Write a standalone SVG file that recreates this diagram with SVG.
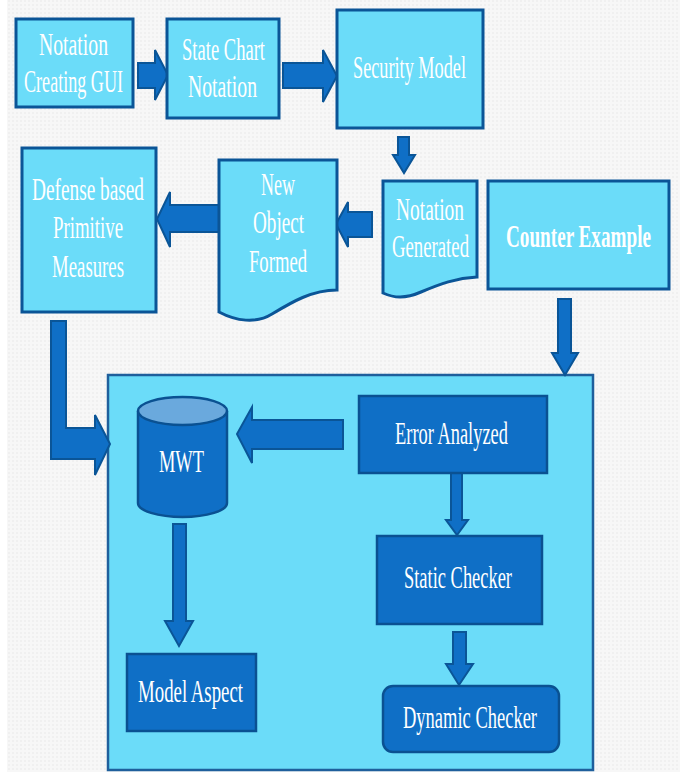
<svg xmlns="http://www.w3.org/2000/svg" width="680" height="772" viewBox="0 0 680 772">
  <defs>
    <style>
      .light { fill: #6bdcf9; stroke: #0b5597; stroke-width: 3; }
      .dark { fill: #0f6fc6; stroke: #0a5192; stroke-width: 2.5; }
      .arrow { fill: #0f6fc6; stroke: #0a5597; stroke-width: 2; stroke-linejoin: miter; }
      .lbl { font-family: "Liberation Serif", "DejaVu Serif", serif; font-size: 32px; fill: #ffffff; }
      .bold { font-weight: bold; }
    </style>
    <pattern id="grain" width="4" height="4" patternUnits="userSpaceOnUse">
      <rect width="4" height="4" fill="#f7f7f7"/>
      <rect width="2" height="2" fill="#f0f0f0"/>
    </pattern>
  </defs>

  <!-- page -->
  <rect width="680" height="772" fill="#ffffff"/>
  <rect x="7" y="0" width="673" height="772" fill="url(#grain)"/>

  <!-- container for the analysis stage -->
  <g id="analysis-panel">
    <rect x="108" y="375" width="485" height="395" fill="#6bdcf9" stroke="#1f5f9c" stroke-width="2.5"/>
  </g>

  <g id="connectors">
    <!-- Notation Creating GUI -> State Chart Notation -->
    <path class="arrow" d="M138,63 H155 V50 L168,75 L155,100 V88 H138 Z"/>
    <!-- State Chart Notation -> Security Model -->
    <path class="arrow" d="M283,63 H323 V50 L337,76 L323,102 V88 H283 Z"/>
    <!-- Security Model -> Notation Generated -->
    <path class="arrow" d="M398,137 H409 V155 H415 L404,173 L393,155 H398 Z"/>
    <!-- Notation Generated -> New Object Formed -->
    <path class="arrow" d="M372,212 H348 V202 L336,224 L348,247 V237 H372 Z"/>
    <!-- New Object Formed -> Defense based Primitive Measures -->
    <path class="arrow" d="M219,205 H170 V192 L157,219 L170,247 V232 H219 Z"/>
    <!-- Defense based Primitive Measures -> panel (bent) -->
    <path class="arrow" d="M51,321 H66 V428 H95 V415 L110,444 L95,475 V459 H51 Z"/>
    <!-- Counter Example -> panel -->
    <path class="arrow" d="M558,299 H571 V353 H578 L565,375 L552,353 H558 Z"/>
    <!-- Error Analyzed -> MWT -->
    <path class="arrow" d="M343,420 H252 V407 L237,434 L252,463 V449 H343 Z"/>
    <!-- MWT -> Model Aspect -->
    <path class="arrow" d="M173,524 H186 V621 H193 L179,646 L165,621 H173 Z"/>
    <!-- Error Analyzed -> Static Checker -->
    <path class="arrow" d="M451,473 H462 V520 H468 L457,535 L446,520 H451 Z"/>
    <!-- Static Checker -> Dynamic Checker -->
    <path class="arrow" d="M453,632 H466 V664 H473 L459,685 L446,664 H453 Z"/>
  </g>

  <g id="notation-gui">
    <rect class="light" x="16" y="19" width="117" height="88"/>
    <text class="lbl" x="39" y="55" textLength="69" lengthAdjust="spacingAndGlyphs">Notation</text>
    <text class="lbl" x="24" y="92" textLength="99" lengthAdjust="spacingAndGlyphs">Creating GUI</text>
  </g>

  <g id="state-chart">
    <rect class="light" x="167" y="19" width="112" height="99"/>
    <text class="lbl" x="182" y="60" textLength="83" lengthAdjust="spacingAndGlyphs">State Chart</text>
    <text class="lbl" x="188" y="97" textLength="69" lengthAdjust="spacingAndGlyphs">Notation</text>
  </g>

  <g id="security-model">
    <rect class="light" x="337" y="10" width="146" height="118"/>
    <text class="lbl" x="353" y="78" textLength="113" lengthAdjust="spacingAndGlyphs">Security Model</text>
  </g>

  <g id="defense-measures">
    <rect class="light" x="22" y="148" width="134" height="164"/>
    <text class="lbl" x="32" y="200" textLength="112" lengthAdjust="spacingAndGlyphs">Defense based</text>
    <text class="lbl" x="53" y="238" textLength="70" lengthAdjust="spacingAndGlyphs">Primitive</text>
    <text class="lbl" x="52" y="277" textLength="72" lengthAdjust="spacingAndGlyphs">Measures</text>
  </g>

  <g id="new-object">
    <path class="light" d="M219,160 H337 V290 C312,290 292,302 272,314 C256,324 236,321 219,312 Z"/>
    <text class="lbl" x="261" y="195" textLength="34" lengthAdjust="spacingAndGlyphs">New</text>
    <text class="lbl" x="253" y="233" textLength="51" lengthAdjust="spacingAndGlyphs">Object</text>
    <text class="lbl" x="249" y="272" textLength="58" lengthAdjust="spacingAndGlyphs">Formed</text>
  </g>

  <g id="notation-generated">
    <path class="light" d="M383,181 H477 V277 C456,278 440,284 421,292 C405,299 394,298 383,293 Z"/>
    <text class="lbl" x="396" y="220" textLength="68" lengthAdjust="spacingAndGlyphs">Notation</text>
    <text class="lbl" x="392" y="257" textLength="77" lengthAdjust="spacingAndGlyphs">Generated</text>
  </g>

  <g id="counter-example">
    <rect class="light" x="488" y="181" width="181" height="108"/>
    <text class="lbl bold" x="506" y="247" textLength="145" lengthAdjust="spacingAndGlyphs">Counter Example</text>
  </g>

  <g id="mwt">
    <path class="dark" d="M138,411 V503 A44.5,14 0 0 0 227,503 V411"/>
    <ellipse cx="182.5" cy="411" rx="44.5" ry="14" fill="#6aa9dd" stroke="#0a5192" stroke-width="2.5"/>
    <text class="lbl" x="159" y="472" textLength="45" lengthAdjust="spacingAndGlyphs">MWT</text>
  </g>

  <g id="model-aspect">
    <rect class="dark" x="127" y="654" width="129" height="77"/>
    <text class="lbl" x="138" y="702" textLength="105" lengthAdjust="spacingAndGlyphs">Model Aspect</text>
  </g>

  <g id="error-analyzed">
    <rect class="dark" x="359" y="396" width="188" height="77"/>
    <text class="lbl" x="395" y="444" textLength="113" lengthAdjust="spacingAndGlyphs">Error Analyzed</text>
  </g>

  <g id="static-checker">
    <rect class="dark" x="377" y="536" width="165" height="88"/>
    <text class="lbl" x="404" y="588" textLength="108" lengthAdjust="spacingAndGlyphs">Static Checker</text>
  </g>

  <g id="dynamic-checker">
    <rect class="dark" x="383" y="686" width="176" height="66" rx="10" ry="10"/>
    <text class="lbl" x="403" y="728" textLength="134" lengthAdjust="spacingAndGlyphs">Dynamic Checker</text>
  </g>
</svg>
